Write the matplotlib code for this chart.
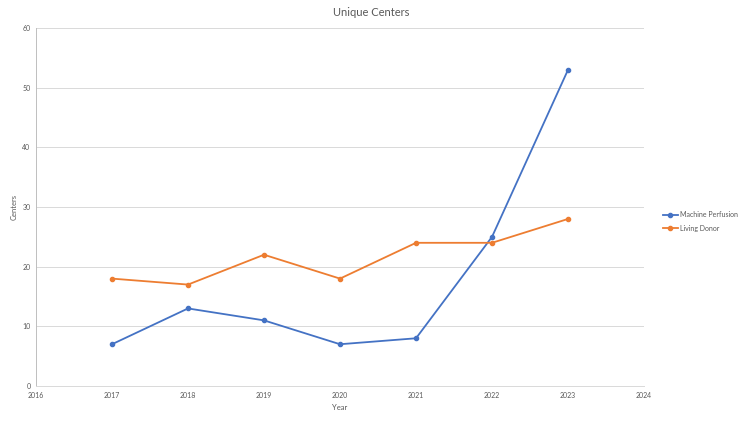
import matplotlib
matplotlib.use("Agg")
import matplotlib.pyplot as plt

years = [2017, 2018, 2019, 2020, 2021, 2022, 2023]
machine_perfusion = [7, 13, 11, 7, 8, 25, 53]
living_donor = [18, 17, 22, 18, 24, 24, 28]
xticks = [2016, 2017, 2018, 2019, 2020, 2021, 2022, 2023, 2024]
yticks = [0, 10, 20, 30, 40, 50, 60]

plt.rcParams['font.family'] = ['Lato', 'DejaVu Sans']
txt = '#595959'

fig = plt.figure(figsize=(7.5, 4.22), dpi=100)
ax = fig.add_axes([0.048, 0.0853, 0.8107, 0.8483])

ax.plot(years, machine_perfusion, color='#4472C4', marker='o', markersize=3, linewidth=1.3, label='Machine Perfusion', zorder=3)
ax.plot(years, living_donor, color='#ED7D31', marker='o', markersize=3, linewidth=1.3, label='Living Donor', zorder=3)

ax.set_xlim(2016, 2024)
ax.set_ylim(0, 60)
ax.set_xticks(xticks)
ax.set_xticklabels([str(x) for x in xticks])
ax.set_yticks(yticks)
ax.tick_params(axis='both', length=0, labelsize=5, colors=txt, pad=4)
ax.grid(axis='y', color='#D9D9D9', linewidth=0.7)
ax.set_axisbelow(True)
for s in ['top', 'right']:
    ax.spines[s].set_visible(False)
ax.spines['left'].set_color('#BFBFBF')
ax.spines['bottom'].set_color('#D9D9D9')
ax.spines['left'].set_linewidth(0.7)
ax.spines['bottom'].set_linewidth(0.7)

ax.set_xlabel('Year', fontsize=5.5, color=txt, labelpad=4)
ax.set_ylabel('Centers', fontsize=5.5, color=txt, labelpad=3)
fig.text(0.495, 0.97, 'Unique Centers', fontsize=8, color=txt, ha='center', va='center')

leg = fig.legend(loc='center left', bbox_to_anchor=(0.875, 0.475), frameon=False,
                 fontsize=5, labelcolor=txt, handlelength=2.2, labelspacing=0.9,
                 handletextpad=0.3)

fig.savefig('out.png', dpi=100)
